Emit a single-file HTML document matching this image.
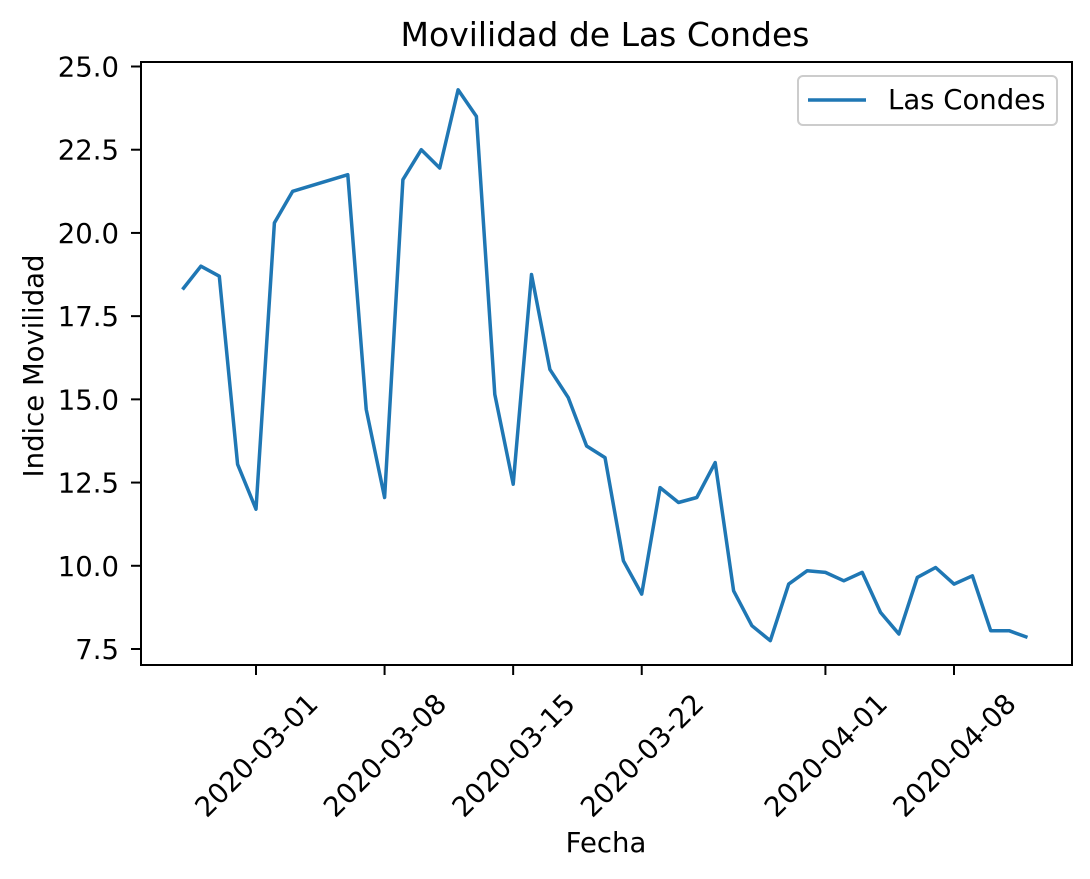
<!DOCTYPE html>
<html><head><meta charset="utf-8"><style>
html,body{margin:0;padding:0;background:#fff;}
svg{display:block;font-family:"DejaVu Sans","Liberation Sans",sans-serif;}
</style></head><body>
<svg id="chart" width="1090" height="879">
<rect width="1090" height="879" fill="#fff"/>
<text x="605" y="46" font-size="33" text-anchor="middle">Movilidad de Las Condes</text>
<text x="606" y="852" font-size="27.5" text-anchor="middle">Fecha</text>
<text transform="translate(43,366) rotate(-90)" font-size="27.5" text-anchor="middle">Indice Movilidad</text>
<g id="yticks"></g><g id="xticks"></g>
<path id="line" fill="none" stroke="#1f77b4" stroke-width="3.5" stroke-linejoin="round"/>
<rect x="141" y="62" width="931" height="603" fill="none" stroke="#000" stroke-width="2"/>
<g>
<rect x="798" y="76" width="259" height="49" rx="5" fill="#fff" stroke="#ccc" stroke-width="2"/>
<line x1="808" y1="100" x2="866" y2="100" stroke="#1f77b4" stroke-width="3.5"/>
<text x="888" y="109" font-size="27.5">Las Condes</text>
</g>
</svg>
<script>
const days = [-4,-3,-2,-1,0,1,2,5,6,7,8,9,10,11,12,13,14,15,16,17,18,19,20,21,22,23,24,25,26,27,28,29,30,31,32,33,34,35,36,37,38,39,40,41,42];
const values = [18.3,19.0,18.7,13.05,11.7,20.3,21.25,21.75,14.7,12.05,21.6,22.5,21.95,24.3,23.5,15.15,12.45,18.75,15.9,15.05,13.6,13.25,10.15,9.15,12.35,11.9,12.05,13.1,9.25,8.2,7.75,9.45,9.85,9.8,9.55,9.8,8.6,7.95,9.65,9.95,9.45,9.7,8.05,8.05,7.85];
const yTicks = [7.5,10.0,12.5,15.0,17.5,20.0,22.5,25.0];
const xTickDays = [0,7,14,21,31,38];
const xTickLabels = ["2020-03-01","2020-03-08","2020-03-15","2020-03-22","2020-04-01","2020-04-08"];
const NS="http://www.w3.org/2000/svg";
function xS(d){return 256+d*(954-256)/38;}
function yS(v){return 649-(v-7.5)*(649-66.5)/17.5;}
const yg=document.getElementById('yticks');
yTicks.forEach(v=>{
  const l=document.createElementNS(NS,'line');
  l.setAttribute('x1',131);l.setAttribute('x2',141);l.setAttribute('y1',yS(v));l.setAttribute('y2',yS(v));
  l.setAttribute('stroke','#000');l.setAttribute('stroke-width','2');
  
  
  yg.appendChild(l);
  const t=document.createElementNS(NS,'text');
  t.setAttribute('x',119);t.setAttribute('y',yS(v)+10);t.setAttribute('font-size','27.5');t.setAttribute('text-anchor','end');
  t.textContent=v.toFixed(1);
  
  
  yg.appendChild(t);
});
const xg=document.getElementById('xticks');
xTickDays.forEach((d,i)=>{
  const x=xS(d);
  const l=document.createElementNS(NS,'line');
  l.setAttribute('x1',x);l.setAttribute('x2',x);l.setAttribute('y1',665);l.setAttribute('y2',675);
  l.setAttribute('stroke','#000');l.setAttribute('stroke-width','2');
  
  
  xg.appendChild(l);
  const t=document.createElementNS(NS,'text');
  t.setAttribute('transform','translate('+x+',755) rotate(-45)');
  t.setAttribute('font-size','27.5');t.setAttribute('text-anchor','middle');t.setAttribute('dy','10');
  t.textContent=xTickLabels[i];
  
  
  xg.appendChild(t);
});
document.getElementById('line').setAttribute('d',days.map((d,i)=>(i?'L':'M')+xS(d).toFixed(1)+','+yS(values[i]).toFixed(1)).join(''));
</script>
</body></html>
